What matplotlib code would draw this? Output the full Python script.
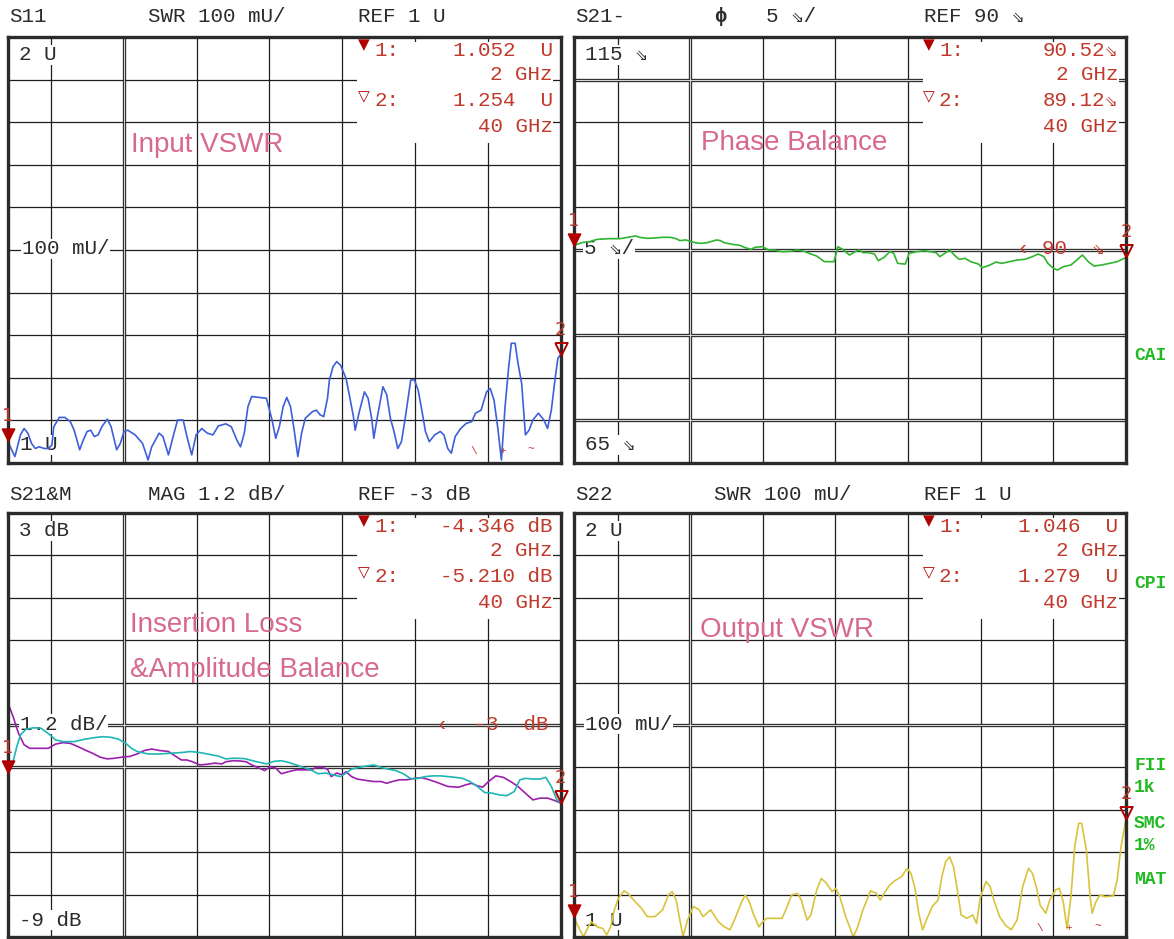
import numpy as np
import matplotlib.pyplot as plt
from matplotlib.patches import Rectangle

plt.rcParams['font.family'] = ['Liberation Mono', 'DejaVu Sans Mono', 'DejaVu Sans']

# ---- trace data, frequency in GHz ----
# S11 input VSWR
s11_freq = [2.00, 2.51, 2.89, 3.14, 3.40, 3.65, 3.91, 4.16, 4.54, 4.80,
            5.05, 5.18, 5.56, 5.94, 6.32, 6.58, 6.96, 7.21, 7.47, 7.72,
            7.97, 8.23, 8.48, 8.86, 9.12, 9.50, 9.75, 10.01, 10.26, 10.77,
            11.28, 11.66, 11.91, 12.42, 12.68, 13.06, 13.44, 13.69, 14.07, 14.33,
            14.66, 14.96, 15.35, 15.73, 16.11, 16.49, 17.00, 17.38, 17.76, 18.01,
            18.27, 18.52, 18.78, 19.29, 19.79, 20.18, 20.43, 20.68, 20.94, 21.19,
            21.45, 21.70, 21.95, 22.21, 22.46, 22.72, 22.97, 23.23, 23.48, 23.73,
            23.99, 24.12, 24.37, 24.62, 24.88, 25.26, 25.51, 25.77, 25.89, 26.15,
            26.53, 26.78, 27.04, 27.17, 27.42, 27.80, 28.06, 28.31, 28.56, 28.82,
            29.07, 29.33, 29.71, 29.96, 30.22, 30.47, 30.72, 30.98, 31.36, 31.74,
            31.99, 32.25, 32.50, 32.76, 33.14, 33.52, 33.90, 34.16, 34.54, 34.92,
            35.17, 35.43, 35.68, 35.94, 36.19, 36.44, 36.62, 36.88, 37.08, 37.33,
            37.59, 37.84, 38.10, 38.48, 38.86, 39.11, 39.37, 39.62, 39.82, 40.00]
s11_swr = [1.052, 1.015, 1.066, 1.081, 1.070, 1.046, 1.034, 1.038, 1.034, 1.034,
           1.042, 1.085, 1.107, 1.107, 1.097, 1.077, 1.031, 1.054, 1.074, 1.077,
           1.062, 1.066, 1.085, 1.103, 1.085, 1.031, 1.046, 1.074, 1.077, 1.066,
           1.046, 1.007, 1.038, 1.070, 1.062, 1.019, 1.070, 1.101, 1.101, 1.062,
           1.019, 1.066, 1.081, 1.070, 1.066, 1.087, 1.092, 1.085, 1.054, 1.038,
           1.070, 1.132, 1.156, 1.154, 1.152, 1.101, 1.058, 1.085, 1.132, 1.154,
           1.132, 1.077, 1.015, 1.070, 1.105, 1.113, 1.121, 1.124, 1.113, 1.109,
           1.152, 1.195, 1.226, 1.238, 1.230, 1.199, 1.156, 1.109, 1.077, 1.117,
           1.167, 1.152, 1.101, 1.058, 1.109, 1.179, 1.160, 1.105, 1.074, 1.034,
           1.050, 1.105, 1.195, 1.195, 1.171, 1.124, 1.074, 1.050, 1.066, 1.074,
           1.066, 1.034, 1.023, 1.062, 1.081, 1.093, 1.097, 1.117, 1.124, 1.167,
           1.175, 1.148, 1.085, 1.007, 1.132, 1.226, 1.281, 1.281, 1.234, 1.187,
           1.066, 1.077, 1.101, 1.117, 1.101, 1.081, 1.124, 1.195, 1.246, 1.254]

# S21 phase balance (deg)
phase_freq = [2.00, 2.53, 3.06, 3.59, 4.39, 5.18, 5.71, 6.24, 6.51, 7.04,
              7.57, 8.10, 8.63, 9.03, 9.29, 9.69, 10.09, 10.35, 10.75, 11.15,
              11.41, 11.81, 12.08, 12.34, 12.87, 13.40, 13.80, 14.20, 14.46, 14.99,
              15.39, 15.79, 16.32, 16.85, 17.38, 17.78, 18.18, 18.71, 19.24, 19.90,
              20.16, 20.56, 20.96, 21.36, 21.62, 21.89, 22.29, 22.68, 22.95, 23.35,
              23.74, 24.01, 24.28, 24.81, 25.07, 25.60, 26.13, 26.53, 26.93, 27.19,
              27.46, 27.86, 28.25, 28.52, 28.92, 29.31, 29.84, 30.11, 30.64, 31.04,
              31.43, 31.97, 32.50, 33.03, 33.56, 33.95, 34.35, 34.62, 35.01, 35.28,
              35.68, 36.21, 36.61, 37.00, 37.40, 37.80, 38.33, 38.86, 39.39, 40.00]
phase_deg = [90.52, 90.86, 90.98, 91.25, 91.33, 91.33, 91.49, 91.65, 91.49, 91.37,
             91.41, 91.49, 91.49, 91.33, 91.10, 91.18, 90.98, 90.86, 90.78, 90.86,
             90.98, 91.18, 91.10, 90.86, 90.67, 90.55, 90.27, 90.08, 90.31, 90.39,
             90.00, 90.00, 89.80, 89.84, 90.00, 89.88, 89.61, 89.29, 88.63, 88.63,
             90.39, 90.00, 89.41, 89.80, 90.00, 89.69, 89.69, 89.53, 88.75, 89.14,
             89.80, 89.61, 88.43, 88.35, 89.61, 89.80, 89.92, 89.80, 89.69, 89.22,
             89.53, 90.00, 89.29, 88.90, 89.02, 88.63, 88.35, 87.92, 88.24, 88.59,
             88.43, 88.63, 88.82, 88.90, 89.22, 89.53, 89.22, 88.43, 87.84, 87.65,
             88.04, 88.24, 88.82, 89.41, 88.63, 88.12, 88.24, 88.43, 88.63, 89.12]

# S21 magnitude, output A (magenta)
mag_a_freq = [2.00, 2.38, 2.76, 3.14, 3.53, 4.03, 4.80, 5.30, 5.81, 6.32,
              6.83, 7.34, 7.85, 8.36, 8.86, 9.37, 9.88, 10.39, 10.90, 11.41,
              11.91, 12.42, 13.06, 13.57, 13.95, 14.33, 14.71, 15.22, 15.73, 16.24,
              16.74, 17.00, 17.51, 18.01, 18.40, 18.78, 19.29, 19.67, 20.05, 20.43,
              20.81, 21.32, 21.83, 22.34, 22.84, 23.23, 23.61, 23.99, 24.24, 24.62,
              25.01, 25.26, 25.64, 26.02, 26.66, 27.17, 27.67, 28.06, 28.44, 28.95,
              29.45, 29.96, 30.47, 30.98, 31.49, 32.25, 33.01, 33.52, 33.90, 34.28,
              34.66, 35.05, 35.55, 36.06, 36.57, 37.08, 37.59, 38.10, 38.60, 39.11,
              39.62, 40.00]
mag_a_db = [-2.34, -2.76, -3.24, -3.56, -3.66, -3.66, -3.66, -3.54, -3.50, -3.52,
            -3.61, -3.71, -3.80, -3.91, -3.96, -3.94, -3.91, -3.89, -3.82, -3.72,
            -3.68, -3.72, -3.75, -3.89, -3.99, -3.99, -4.04, -4.13, -4.11, -4.08,
            -4.10, -4.04, -4.01, -4.02, -4.04, -4.13, -4.22, -4.29, -4.18, -4.22,
            -4.38, -4.32, -4.27, -4.27, -4.27, -4.20, -4.20, -4.25, -4.46, -4.36,
            -4.41, -4.32, -4.46, -4.53, -4.57, -4.60, -4.60, -4.65, -4.60, -4.55,
            -4.55, -4.51, -4.49, -4.55, -4.62, -4.74, -4.76, -4.69, -4.65, -4.72,
            -4.76, -4.60, -4.44, -4.48, -4.60, -4.74, -4.93, -5.12, -5.07, -5.07,
            -5.14, -5.21]

# S21 magnitude, output B (cyan)
mag_b_freq = [2.00, 2.38, 2.64, 2.89, 3.27, 3.78, 4.29, 4.80, 5.30, 5.81,
              6.58, 7.34, 8.10, 8.61, 9.12, 9.63, 10.13, 10.52, 10.90, 11.66,
              12.42, 13.18, 13.95, 14.58, 15.22, 15.73, 16.49, 17.00, 17.51, 18.27,
              19.03, 19.79, 20.30, 20.81, 21.32, 21.83, 22.34, 22.84, 23.35, 23.86,
              24.37, 24.88, 25.26, 25.64, 26.15, 26.66, 27.17, 27.67, 28.18, 28.69,
              29.20, 29.71, 30.22, 30.72, 31.23, 31.74, 32.25, 32.76, 33.27, 33.78,
              34.28, 34.79, 35.30, 35.81, 36.32, 36.83, 37.21, 37.59, 38.10, 38.60,
              38.99, 39.37, 39.75, 40.00]
mag_b_db = [-4.35, -4.04, -3.61, -3.28, -3.12, -3.08, -3.09, -3.24, -3.42, -3.47,
            -3.47, -3.40, -3.35, -3.33, -3.35, -3.40, -3.52, -3.66, -3.75, -3.82,
            -3.82, -3.80, -3.78, -3.75, -3.78, -3.82, -3.88, -3.96, -3.94, -3.95,
            -4.03, -4.10, -4.03, -4.01, -4.06, -4.13, -4.20, -4.27, -4.38, -4.36,
            -4.41, -4.46, -4.36, -4.25, -4.20, -4.16, -4.13, -4.20, -4.25, -4.29,
            -4.38, -4.52, -4.51, -4.46, -4.44, -4.44, -4.46, -4.48, -4.51, -4.60,
            -4.74, -4.91, -4.93, -4.98, -5.00, -4.88, -4.55, -4.51, -4.53, -4.53,
            -4.48, -4.74, -5.12, -5.21]

# S22 output VSWR
s22_freq = [2.00, 2.40, 2.66, 2.93, 3.19, 3.59, 3.99, 4.25, 4.52, 4.78,
            5.05, 5.45, 5.71, 6.11, 6.64, 7.04, 7.57, 8.10, 8.50, 8.76,
            9.03, 9.29, 9.50, 9.82, 10.22, 10.62, 10.88, 11.41, 11.94, 12.34,
            12.74, 13.14, 13.54, 13.80, 14.07, 14.33, 14.73, 14.99, 15.26, 15.79,
            16.32, 16.58, 16.98, 17.38, 17.65, 18.04, 18.31, 18.71, 19.02, 19.37,
            19.77, 20.03, 20.30, 20.70, 21.23, 21.49, 21.89, 22.42, 22.82, 23.08,
            23.35, 23.74, 24.14, 24.54, 24.94, 25.20, 25.47, 25.73, 26.00, 26.26,
            26.66, 27.06, 27.32, 27.59, 27.86, 28.12, 28.39, 28.65, 29.05, 29.45,
            29.71, 29.98, 30.37, 30.64, 30.90, 31.30, 31.70, 32.10, 32.50, 32.89,
            33.29, 33.56, 33.82, 34.09, 34.48, 34.75, 35.15, 35.41, 35.68, 35.94,
            36.21, 36.47, 36.74, 36.95, 37.27, 37.53, 37.67, 37.93, 38.20, 38.59,
            39.13, 39.39, 39.66, 40.00]
s22_swr = [1.046, 1.017, 1.001, 1.020, 1.036, 1.024, 1.020, 1.005, 1.024, 1.064,
           1.091, 1.109, 1.103, 1.087, 1.068, 1.048, 1.048, 1.064, 1.099, 1.107,
           1.087, 1.040, 1.001, 1.040, 1.072, 1.064, 1.048, 1.064, 1.036, 1.024,
           1.017, 1.048, 1.083, 1.099, 1.083, 1.056, 1.024, 1.036, 1.044, 1.044,
           1.044, 1.064, 1.099, 1.103, 1.087, 1.040, 1.052, 1.111, 1.138, 1.127,
           1.107, 1.115, 1.095, 1.048, 1.001, 1.020, 1.064, 1.109, 1.103, 1.087,
           1.103, 1.123, 1.134, 1.142, 1.162, 1.150, 1.115, 1.056, 1.017, 1.040,
           1.072, 1.087, 1.142, 1.178, 1.189, 1.166, 1.111, 1.052, 1.044, 1.052,
           1.032, 1.095, 1.131, 1.119, 1.087, 1.048, 1.028, 1.017, 1.040, 1.119,
           1.162, 1.150, 1.119, 1.075, 1.056, 1.087, 1.111, 1.115, 1.083, 1.020,
           1.095, 1.213, 1.268, 1.268, 1.205, 1.095, 1.056, 1.083, 1.099, 1.095,
           1.097, 1.134, 1.213, 1.279]

# marker readouts
marker_freq = [2, 40]
s11_mark = [1.052, 1.254]
phase_mark = [90.52, 89.12]
mag_mark = [-4.346, -5.210]
s22_mark = [1.046, 1.279]

grid_freq = [5, 10, 15, 20, 25, 30, 35]

DARK = '#2b2b2b'
RED = '#c0392b'
MRED = '#b00000'
PINK = '#d7698c'
GREEN = '#22b922'

W, H = 1174, 939
fig = plt.figure(figsize=(W / 100, H / 100), dpi=100)
fig.patch.set_facecolor('white')


def put(x, y, s, target=None, **kw):
    # place text by pixel position of the screenshot
    kw.setdefault('va', 'center')
    kw.setdefault('fontsize', 15)
    kw.setdefault('color', DARK)
    if target is None:
        fig.text(x / W, 1 - y / H, s, **kw)
    else:
        target.text(x / W, 1 - y / H, s, transform=fig.transFigure, **kw)


def gridline(fn, v, double):
    if double:
        fn(v, color='#333333', lw=2.4, zorder=1)
        fn(v, color='#d8d8d8', lw=0.7, zorder=1.1)
    else:
        fn(v, color='#1e1e1e', lw=0.9, zorder=1)


def make_panel(col, row, ylim, doubles):
    x0, x1 = [7.5, 574][col], [560.5, 1126][col]
    y0, y1 = [37, 513][row], [463, 937][row]
    ax = fig.add_axes([x0 / W, 1 - y1 / H, (x1 - x0) / W, (y1 - y0) / H])
    ax.set_xlim(2, 40)
    ax.set_ylim(*ylim)
    ax.set_xticks([])
    ax.set_yticks([])
    for sp in ax.spines.values():
        sp.set_linewidth(2.4)
        sp.set_color(DARK)
        sp.set_zorder(7)
    for f in grid_freq:
        gridline(ax.axvline, f, f == 10)
    levels = np.linspace(ylim[1], ylim[0], 11)[1:-1]
    for i, y in enumerate(levels, start=1):
        gridline(ax.axhline, y, i in doubles)
    # blank area behind the marker readout
    ax.add_patch(Rectangle((0.632, 0.751), 0.355, 0.237, transform=ax.transAxes,
                           fc='white', ec='none', zorder=2))
    return ax


TRI = [(-0.5, 1.0), (0.5, 1.0), (0.0, 0.0), (-0.5, 1.0)]


def add_markers(ax, vals):
    ax.plot(marker_freq[0], vals[0], ls='none', marker=TRI, ms=18,
            mfc=MRED, mec=MRED, clip_on=False, zorder=8)
    ax.plot(marker_freq[1], vals[1], ls='none', marker=TRI, ms=18,
            mfc='none', mec=MRED, mew=1.4, clip_on=False, zorder=8)
    for k in range(2):
        ax.annotate(str(k + 1), (marker_freq[k], vals[k]), xytext=(0, 18),
                    textcoords='offset points', ha='center', va='center',
                    color=RED, fontsize=13, family='DejaVu Sans',
                    annotation_clip=False, zorder=8)


def readout(col, row, vals, fmt):
    dx, dy = 565 * col, 476 * row
    put(364 + dx, 45 + dy, '\u25bc', color=MRED, fontsize=11, ha='center', family='DejaVu Sans')
    put(374 + dx, 50 + dy, '1:', color=RED)
    put(553 + dx, 50 + dy, fmt(vals[0]), color=RED, ha='right')
    put(553 + dx, 75 + dy, f'{marker_freq[0]} GHz', color=RED, ha='right')
    put(364 + dx, 97 + dy, '\u25bd', color=MRED, fontsize=11, ha='center', family='DejaVu Sans')
    put(374 + dx, 100 + dy, '2:', color=RED)
    put(553 + dx, 100 + dy, fmt(vals[1]), color=RED, ha='right')
    put(553 + dx, 127 + dy, f'{marker_freq[1]} GHz', color=RED, ha='right')


lab = dict(bbox=dict(fc='white', ec='none', pad=0.5), zorder=3)
big = dict(family='Liberation Sans', fontsize=20, color=PINK, va='baseline', zorder=3)

# top left: S11
ax1 = make_panel(0, 0, (1, 2), [])
ax1.plot(s11_freq, s11_swr, color='#3d5fd8', lw=1.2, zorder=5)
add_markers(ax1, s11_mark)
readout(0, 0, s11_mark, lambda v: f'{v:.3f}  U')
put(9, 17, 'S11')
put(148, 17, 'SWR 100 mU/')
put(358, 17, 'REF 1 U')
put(19, 55, '2 U', ax1, **lab)
put(22, 249, '100 mU/', ax1, **lab)
put(20, 445, '1 U', ax1, **lab)
put(131, 152, 'Input VSWR', ax1, **big)
put(470, 451, '\\', color=RED, fontsize=8)
put(499, 451, '+', color=RED, fontsize=8)
put(527, 449, '~', color=RED, fontsize=8)

# top right: phase
ax2 = make_panel(1, 0, (65, 115), [1, 5, 7, 9])
ax2.plot(phase_freq, phase_deg, color='#2fb52f', lw=1.2, zorder=5)
add_markers(ax2, phase_mark)
readout(1, 0, phase_mark, lambda v: f'{v:.2f}\u21d8')
put(575, 17, 'S21-')
put(714, 17, '\u03d5', fontweight='bold')
put(766, 17, '5 \u21d8/')
put(924, 17, 'REF 90 \u21d8')
put(585, 55, '115 \u21d8', ax2, **lab)
put(584, 249, '5 \u21d8/', ax2, **lab)
put(585, 445, '65 \u21d8', ax2, **lab)
put(701, 150, 'Phase Balance', ax2, **big)
put(1017, 249, '\u2039 90  \u21d8', ax2, color=RED, zorder=3)

# bottom left: insertion loss / amplitude balance
ax3 = make_panel(0, 1, (-9, 3), [5, 6])
ax3.plot(mag_a_freq, mag_a_db, color='#9c1fae', lw=1.2, zorder=5)
ax3.plot(mag_b_freq, mag_b_db, color='#1fb5b5', lw=1.2, zorder=5)
add_markers(ax3, mag_mark)
readout(0, 1, mag_mark, lambda v: f'{v:.3f} dB')
put(9, 494, 'S21&M')
put(148, 494, 'MAG 1.2 dB/')
put(358, 494, 'REF -3 dB')
put(19, 531, '3 dB', ax3, **lab)
put(20, 724, '1.2 dB/', ax3, **lab)
put(19, 920, '-9 dB', ax3, **lab)
put(130, 632, 'Insertion Loss', ax3, **big)
put(130, 677, '&Amplitude Balance', ax3, **big)
put(436, 724, '\u2039  -3  dB', ax3, color=RED, zorder=3)

# bottom right: S22
ax4 = make_panel(1, 1, (1, 2), [5])
ax4.plot(s22_freq, s22_swr, color='#d8c43c', lw=1.2, zorder=5)
add_markers(ax4, s22_mark)
readout(1, 1, s22_mark, lambda v: f'{v:.3f}  U')
put(575, 494, 'S22')
put(714, 494, 'SWR 100 mU/')
put(924, 494, 'REF 1 U')
put(585, 531, '2 U', ax4, **lab)
put(585, 724, '100 mU/', ax4, **lab)
put(585, 920, '1 U', ax4, **lab)
put(700, 637, 'Output VSWR', ax4, **big)
put(1036, 928, '\\', color=RED, fontsize=8)
put(1065, 928, '+', color=RED, fontsize=8)
put(1094, 926, '~', color=RED, fontsize=8)

# softkey labels cut off at the right edge
for txt, y in [('CAI', 355), ('CPI', 583), ('FII', 765), ('1k', 788),
               ('SMC', 823), ('1%', 846), ('MAT', 880)]:
    put(1134, y, txt, color=GREEN, fontsize=13, fontweight='bold')

fig.savefig('out.png', dpi=100)
